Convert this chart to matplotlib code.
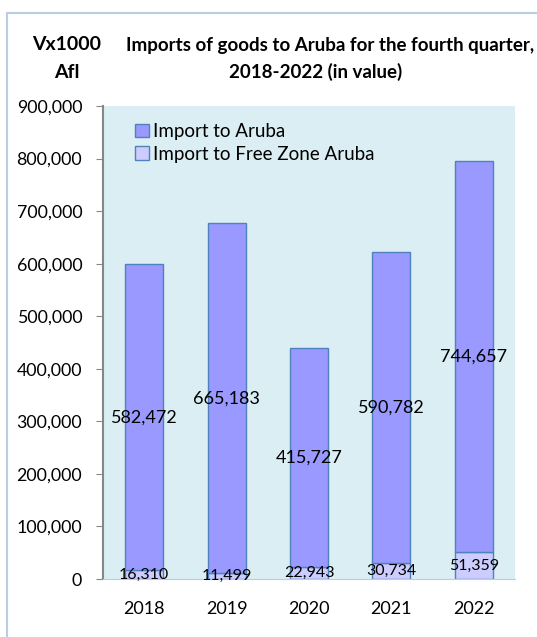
import matplotlib.pyplot as plt
from matplotlib.patches import Rectangle
from matplotlib.ticker import FuncFormatter

# Data
years = ['2018', '2019', '2020', '2021', '2022']
import_aruba = [582472, 665183, 415727, 590782, 744657]
import_free_zone = [16310, 11499, 22943, 30734, 51359]

W, H = 537, 637
plt.rcParams['font.family'] = ['Lato', 'DejaVu Sans']

fig = plt.figure(figsize=(W / 100, H / 100), dpi=100)

# outer chart border
fig.patches.append(Rectangle((6.5 / W, -0.05), 1.05, (H - 12.5) / H + 0.05,
                             transform=fig.transFigure, fill=False,
                             edgecolor='#B9CDE5', linewidth=1.5))

ax = fig.add_axes([103 / W, (H - 579) / H, 412 / W, 473 / H])
ax.set_facecolor('#DAEEF3')

x = list(range(len(years)))
bw = 0.46
b1 = ax.bar(x, import_free_zone, bw, color='#CCCCFF', edgecolor='#4F81BD',
            linewidth=1, label='Import to Free Zone Aruba', zorder=2)
b2 = ax.bar(x, import_aruba, bw, bottom=import_free_zone, color='#9999FF',
            edgecolor='#4F81BD', linewidth=1, label='Import to Aruba', zorder=2)

for i in x:
    ax.text(i, import_free_zone[i] + import_aruba[i] / 2, f'{import_aruba[i]:,}',
            ha='center', va='center', fontsize=13, zorder=3)
    ax.text(i, import_free_zone[i] / 2, f'{import_free_zone[i]:,}',
            ha='center', va='center', fontsize=11.5, zorder=3)

ax.set_xlim(-0.5, 4.5)
ax.set_ylim(0, 900000)
ax.set_yticks(range(0, 900001, 100000))
ax.yaxis.set_major_formatter(FuncFormatter(lambda v, p: f'{int(v):,}'))
ax.set_xticks(x)
ax.set_xticklabels(years)
ax.tick_params(axis='y', length=5, color='#868686', labelsize=12.8, pad=10)
ax.tick_params(axis='x', length=0, labelsize=13, pad=16)

for s in ['top', 'right']:
    ax.spines[s].set_visible(False)
ax.spines['left'].set_color('#868686')
ax.spines['left'].set_linewidth(1.5)
ax.spines['bottom'].set_color('#B9CDE5')

leg = ax.legend(handles=[b2, b1], loc='upper left', bbox_to_anchor=(0.06, 0.98),
                frameon=False, fontsize=13.5, handlelength=0.75, handleheight=0.75,
                handletextpad=0.2, labelspacing=0.3, borderaxespad=0)

fig.text(67 / W, 1 - 45 / H, 'Vx1000', ha='center', va='center',
         fontsize=14, fontweight='bold')
fig.text(67 / W, 1 - 72 / H, 'Afl', ha='center', va='center',
         fontsize=14, fontweight='bold')
fig.text(330 / W, 1 - 45 / H, 'Imports of goods to Aruba for the fourth quarter,',
         ha='center', va='center', fontsize=13.5, fontweight='bold')
fig.text(316 / W, 1 - 72 / H, '2018-2022 (in value)',
         ha='center', va='center', fontsize=13.5, fontweight='bold')

fig.savefig('out.png', dpi=100)
